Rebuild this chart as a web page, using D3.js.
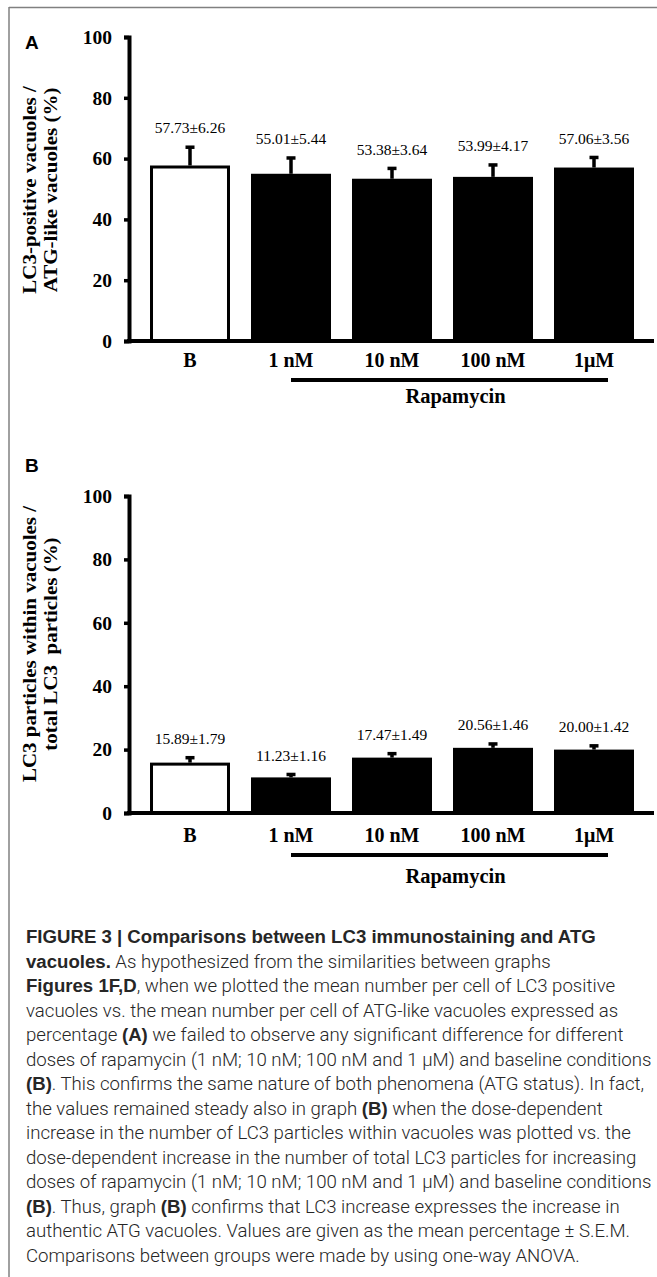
<!DOCTYPE html>
<html>
<head>
<meta charset="utf-8">
<script src="https://cdn.jsdelivr.net/npm/d3@7"></script>
<style>
  body { margin: 0; background: #fff; }
  svg { display: block; }
</style>
</head>
<body>
<div id="figure"></div>
<script>
// values
const categories = ["B", "1 nM", "10 nM", "100 nM", "1μM"]
const meansA = [57.73, 55.01, 53.38, 53.99, 57.06]
const semA = [6.26, 5.44, 3.64, 4.17, 3.56]
const meansB = [15.89, 11.23, 17.47, 20.56, 20.00]
const semB = [1.79, 1.16, 1.49, 1.46, 1.42]
const yTicks = [0, 20, 40, 60, 80, 100]
const ylabelA = ["LC3-positive vacuoles /", "ATG-like vacuoles (%)"]
const ylabelB = ["LC3 particles within vacuoles /", "total LC3  particles (%)"]
const groupLabel = "Rapamycin"

// caption, one entry per printed line; **...** is bold
const captionLines = [
  "**FIGURE 3 | Comparisons between LC3 immunostaining and ATG**",
  "**vacuoles.** As hypothesized from the similarities between graphs",
  "**Figures 1F,D**, when we plotted the mean number per cell of LC3 positive",
  "vacuoles vs. the mean number per cell of ATG-like vacuoles expressed as",
  "percentage **(A)** we failed to observe any significant difference for different",
  "doses of rapamycin (1 nM; 10 nM; 100 nM and 1 μM) and baseline conditions",
  "**(B)**. This confirms the same nature of both phenomena (ATG status). In fact,",
  "the values remained steady also in graph **(B)** when the dose-dependent",
  "increase in the number of LC3 particles within vacuoles was plotted vs. the",
  "dose-dependent increase in the number of total LC3 particles for increasing",
  "doses of rapamycin (1 nM; 10 nM; 100 nM and 1 μM) and baseline conditions",
  "**(B)**. Thus, graph **(B)** confirms that LC3 increase expresses the increase in",
  "authentic ATG vacuoles. Values are given as the mean percentage ± S.E.M.",
  "Comparisons between groups were made by using one-way ANOVA."
]

const W = 657, H = 1277
const serif = "'Liberation Serif', 'Times New Roman', serif"
const sans = "'Liberation Sans', Arial, Helvetica, sans-serif"

let svg = d3.select("#figure").append("svg")
    .attr("width", W)
    .attr("height", H)

// grey frame (top and left edges visible)
svg.append("line").attr("x1", 9).attr("x2", W).attr("y1", 7.5).attr("y2", 7.5)
    .attr("stroke", "#808080").attr("stroke-width", 1.5)
svg.append("line").attr("x1", 9).attr("x2", 9).attr("y1", 7).attr("y2", H)
    .attr("stroke", "#808080").attr("stroke-width", 1.5)

const axisX = 129
let x = d3.scaleBand().domain(categories).range([139.5, 644.5])
    .paddingInner(0.208).paddingOuter(0.104)

function drawPanel(p) {
  let g = svg.append("g")
  let y = d3.scaleLinear().domain([0, 100]).range([p.bottom, p.top])
  let data = categories.map((c, i) => ({c: c, m: p.means[i], s: p.sems[i], i: i}))
  let bw = x.bandwidth()

  g.append("text").attr("x", 25).attr("y", p.letterY)
      .attr("font-family", sans).attr("font-weight", "bold").attr("font-size", 19)
      .text(p.letter)

  // y label, two rotated lines (glyphs a little squeezed across)
  p.ylabel.forEach((t, k) => {
    g.append("text")
        .attr("transform", `translate(${36 + k * 21},${p.labelMid}) rotate(-90) scale(1,0.85)`)
        .attr("text-anchor", "middle")
        .attr("font-family", serif).attr("font-weight", "bold").attr("font-size", 21)
        .style("white-space", "pre")
        .text(t)
  })

  // bars
  g.selectAll("rect.bar")
      .data(data)
      .join("rect")
      .attr("class", "bar")
      .attr("x", d => d.i == 0 ? x(d.c) + 1.5 : x(d.c))
      .attr("width", d => d.i == 0 ? bw - 3 : bw)
      .attr("y", d => d.i == 0 ? y(d.m) + 1.5 : y(d.m))
      .attr("height", d => d.i == 0 ? y(0) - y(d.m) - 1.5 : y(0) - y(d.m))
      .attr("fill", d => d.i == 0 ? "#fff" : "#000")
      .attr("stroke", d => d.i == 0 ? "#000" : "none")
      .attr("stroke-width", 3)

  // error bars (upper only)
  g.selectAll("line.err")
      .data(data)
      .join("line")
      .attr("class", "err")
      .attr("x1", d => x(d.c) + bw / 2).attr("x2", d => x(d.c) + bw / 2)
      .attr("y1", d => y(d.m)).attr("y2", d => y(d.m + d.s))
      .attr("stroke", "#000").attr("stroke-width", 3.5)
  g.selectAll("rect.cap")
      .data(data)
      .join("rect")
      .attr("class", "cap")
      .attr("x", d => x(d.c) + bw / 2 - 4.5)
      .attr("y", d => y(d.m + d.s) - 1)
      .attr("width", 9).attr("height", 3.5)
      .attr("fill", "#000")

  g.selectAll("text.val")
      .data(data)
      .join("text")
      .attr("class", "val")
      .attr("x", d => x(d.c) + bw / 2)
      .attr("y", d => y(d.m + d.s) - 13)
      .attr("text-anchor", "middle")
      .attr("font-family", serif).attr("font-size", 15.5)
      .text(d => d.m.toFixed(2) + "±" + d.s.toFixed(2))

  // y axis
  let ya = g.append("g")
      .attr("transform", `translate(${axisX},0)`)
      .call(d3.axisLeft(y).tickValues(yTicks).tickSize(5).tickSizeOuter(5).tickPadding(12))
  ya.select(".domain").attr("stroke-width", 4)
  ya.selectAll(".tick line").attr("stroke-width", 3.5)
  ya.selectAll(".tick text")
      .attr("font-family", serif).attr("font-weight", "bold").attr("font-size", 19.5)
      .attr("fill", "#000")

  // x baseline
  g.append("line")
      .attr("x1", axisX - 2).attr("x2", 654)
      .attr("y1", y(0)).attr("y2", y(0))
      .attr("stroke", "#000").attr("stroke-width", 4)

  g.selectAll("text.cat")
      .data(categories)
      .join("text")
      .attr("class", "cat")
      .attr("x", c => x(c) + bw / 2)
      .attr("y", p.catY)
      .attr("text-anchor", "middle")
      .attr("font-family", serif).attr("font-weight", "bold").attr("font-size", 20)
      .text(c => c)

  let gx1 = x("1 nM") + bw / 2
  let gx2 = x("1μM") + bw / 2 + 14
  g.append("line")
      .attr("x1", gx1).attr("x2", gx2)
      .attr("y1", p.lineY).attr("y2", p.lineY)
      .attr("stroke", "#000").attr("stroke-width", 4)
  g.append("text")
      .attr("x", (gx1 + gx2) / 2 + 6).attr("y", p.rapY)
      .attr("text-anchor", "middle")
      .attr("font-family", serif).attr("font-weight", "bold").attr("font-size", 20.5)
      .text(groupLabel)
}

drawPanel({letter: "A", letterY: 49, top: 37, bottom: 341, means: meansA, sems: semA,
  ylabel: ylabelA, labelMid: 190, catY: 367, lineY: 380, rapY: 403})
drawPanel({letter: "B", letterY: 472, top: 496, bottom: 813, means: meansB, sems: semB,
  ylabel: ylabelB, labelMid: 644, catY: 842, lineY: 855, rapY: 883})

// caption: light narrow body text, wider bold runs
let cap = svg.append("g").attr("fill", "#262626")
let capLines = captionLines.map((line, i) => {
  let t = cap.append("text").attr("x", 26).attr("y", 943 + i * 24.5)
  line.split("**").forEach((seg, k) => {
    if (k % 2) t.append("tspan").attr("font-family", sans).attr("font-weight", "bold").text(seg)
    else t.append("tspan").attr("font-family", "Roboto, " + sans).attr("font-weight", 300).text(seg)
  })
  return t
})
// fit the font so the widest line spans the text block
cap.attr("font-size", 17)
let widest = d3.max(capLines, t => t.node().getComputedTextLength())
cap.attr("font-size", 17 * 626 / widest)
</script>
</body>
</html>
